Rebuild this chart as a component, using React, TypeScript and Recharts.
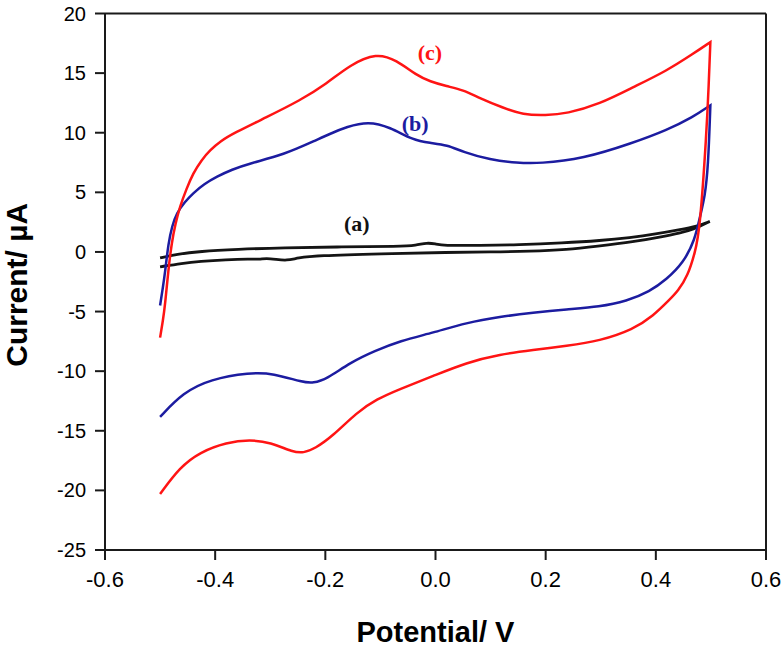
import { Label, Line, LineChart, ReferenceDot, ReferenceLine, XAxis, YAxis } from 'recharts';

// potential (V), current (µA) pairs
const aForward: [number, number][] = [
  [-0.5, -1.25], [-0.46, -0.95], [-0.428, -0.79], [-0.38, -0.65], [-0.337, -0.59], [-0.32, -0.62],
  [-0.307, -0.53], [-0.29, -0.62], [-0.27, -0.73], [-0.25, -0.5], [-0.216, -0.31], [-0.1, -0.15],
  [0.026, -0.03], [0.1, 0.0], [0.171, 0.05], [0.24, 0.2], [0.292, 0.47], [0.36, 0.85],
  [0.413, 1.3], [0.443, 1.58], [0.467, 1.86], [0.498, 2.56], [0.498, 2.56],
];
const aReverse: [number, number][] = [
  [0.498, 2.56], [0.475, 2.15], [0.443, 1.86], [0.4, 1.5], [0.353, 1.2], [0.3, 0.95],
  [0.231, 0.75], [0.15, 0.6], [0.08, 0.55], [0.013, 0.53], [0.0, 0.68], [-0.016, 0.78],
  [-0.035, 0.55], [-0.065, 0.47], [-0.17, 0.42], [-0.277, 0.36], [-0.36, 0.22], [-0.428, 0.05],
  [-0.47, -0.2], [-0.5, -0.5],
];

const bForward: [number, number][] = [
  [-0.5, -4.49], [-0.495, -3.0], [-0.491, -1.76], [-0.485, 0.75], [-0.478, 2.2], [-0.47, 3.26],
  [-0.455, 4.2], [-0.44, 4.93], [-0.42, 5.7], [-0.397, 6.32], [-0.37, 6.9], [-0.337, 7.44],
  [-0.276, 8.14], [-0.216, 9.39], [-0.192, 9.9], [-0.161, 10.5], [-0.122, 10.95],
  [-0.083, 10.48], [-0.041, 9.39], [-0.01, 9.14], [0.021, 8.97], [0.05, 8.39], [0.099, 7.72],
  [0.148, 7.47], [0.189, 7.42], [0.267, 7.8], [0.358, 9.14], [0.42, 10.22], [0.467, 11.3],
  [0.499, 12.3], [0.499, 12.3],
];
const bReverse: [number, number][] = [
  [0.499, 12.3], [0.495, 7.13], [0.489, 4.62], [0.48, 2.95], [0.471, 1.03], [0.45, -0.92],
  [0.419, -2.32], [0.389, -3.32], [0.347, -4.13], [0.298, -4.6], [0.238, -4.82], [0.177, -5.1],
  [0.117, -5.43], [0.056, -5.94], [-0.004, -6.77], [-0.065, -7.47], [-0.11, -8.3], [-0.155, -9.28],
  [-0.198, -10.68], [-0.222, -11.0], [-0.24, -10.95], [-0.295, -10.18], [-0.337, -10.12],
  [-0.409, -10.68], [-0.458, -11.79], [-0.5, -13.83],
];

const cForward: [number, number][] = [
  [-0.5, -7.19], [-0.495, -5.8], [-0.491, -4.5], [-0.485, -1.5], [-0.479, 0.75], [-0.472, 2.4],
  [-0.464, 3.8], [-0.452, 5.3], [-0.44, 6.6], [-0.425, 7.7], [-0.409, 8.55], [-0.39, 9.3],
  [-0.367, 9.95], [-0.307, 11.3], [-0.246, 12.7], [-0.198, 14.1], [-0.155, 15.7],
  [-0.107, 16.7], [-0.071, 16.1], [-0.034, 14.8], [-0.01, 14.3], [0.02, 13.9], [0.05, 13.6],
  [0.08, 12.9], [0.122, 12.1], [0.159, 11.5], [0.2, 11.45], [0.238, 11.6], [0.298, 12.4],
  [0.358, 13.8], [0.42, 15.2], [0.467, 16.6], [0.499, 17.6], [0.499, 17.6],
];
const cReverse: [number, number][] = [
  [0.499, 17.6], [0.496, 14.0], [0.492, 9.95], [0.48, 1.86], [0.471, -0.08], [0.458, -2.0],
  [0.44, -3.3], [0.425, -4.0], [0.395, -5.38], [0.359, -6.5], [0.298, -7.47], [0.238, -7.89],
  [0.177, -8.23], [0.117, -8.59], [0.056, -9.28], [-0.004, -10.4], [-0.065, -11.5], [-0.107, -12.35],
  [-0.143, -13.46], [-0.186, -15.42], [-0.219, -16.5], [-0.24, -16.86], [-0.258, -16.8],
  [-0.3, -15.97], [-0.337, -15.75], [-0.379, -15.97], [-0.428, -16.8], [-0.464, -18.06], [-0.5, -20.3],
];

const xTicks = [-0.6, -0.4, -0.2, 0.0, 0.2, 0.4, 0.6];
const yTicks = [-25, -20, -15, -10, -5, 0, 5, 10, 15, 20];

const toPoints = (pairs: [number, number][]) => pairs.map(([x, y]) => ({ x, y }));

const curveA = toPoints([...aForward, ...aReverse]);
const curveB = toPoints([...bForward, ...bReverse]);
const curveC = toPoints([...cForward, ...cReverse]);

const sans = '"Liberation Sans", Arial, sans-serif';
const serif = '"Liberation Serif", "Times New Roman", serif';
const axisColor = '#1a1a1a';

export default function App() {
  return (
    <div>
      <style>{'body{margin:0}'}</style>
      <LineChart width={784} height={648} margin={{ top: 13.5, right: 18, bottom: 0, left: 0 }}>
        <XAxis
          dataKey="x"
          type="number"
          domain={[-0.6, 0.6]}
          ticks={xTicks}
          tickFormatter={(v: number) => v.toFixed(1)}
          height={98}
          tickSize={10}
          tickMargin={11}
          stroke={axisColor}
          strokeWidth={2}
          tick={{ fill: '#000', fontSize: 22, fontFamily: sans }}
        >
          <Label
            content={(props: any) => {
              const vb = props.viewBox || { x: 105, y: 550, width: 661, height: 98 };
              return (
                <text
                  x={vb.x + vb.width / 2}
                  y={vb.y + vb.height - 6}
                  textAnchor="middle"
                  fontFamily={sans}
                  fontWeight="bold"
                  fontSize={29}
                  fill="#000"
                >
                  Potential/ V
                </text>
              );
            }}
          />
        </XAxis>
        <YAxis
          dataKey="y"
          type="number"
          domain={[-25, 20]}
          ticks={yTicks}
          width={105}
          tickSize={10}
          tickMargin={9}
          stroke={axisColor}
          strokeWidth={2}
          tick={{ fill: '#000', fontSize: 20, fontFamily: sans }}
        >
          <Label
            content={(props: any) => {
              const vb = props.viewBox || { x: 0, y: 13.5, width: 105, height: 536.5 };
              const cy = vb.y + vb.height / 2 + 3;
              return (
                <text
                  x={27}
                  y={cy}
                  transform={`rotate(-90, 27, ${cy})`}
                  textAnchor="middle"
                  fontFamily={sans}
                  fontWeight="bold"
                  fontSize={30}
                  fill="#000"
                >
                  Current/ µA
                </text>
              );
            }}
          />
        </YAxis>
        <ReferenceLine y={20} stroke={axisColor} strokeWidth={2} />
        <ReferenceLine x={0.6} stroke={axisColor} strokeWidth={2} />
        <Line data={curveA} dataKey="y" type="basis" stroke="#141414" strokeWidth={2.8} dot={false} isAnimationActive={false} />
        <Line data={curveB} dataKey="y" type="basis" stroke="#1c1ca0" strokeWidth={2.5} dot={false} isAnimationActive={false} />
        <Line data={curveC} dataKey="y" type="basis" stroke="#ff1414" strokeWidth={2.5} dot={false} isAnimationActive={false} />
        <ReferenceDot
          x={-0.01}
          y={16.75}
          r={1}
          fill="none"
          stroke="none"
          label={{ value: '(c)', position: 'center', fill: '#ff1414', fontSize: 22, fontWeight: 'bold', fontFamily: serif }}
        />
        <ReferenceDot
          x={-0.037}
          y={10.8}
          r={1}
          fill="none"
          stroke="none"
          label={{ value: '(b)', position: 'center', fill: '#1c1ca0', fontSize: 22, fontWeight: 'bold', fontFamily: serif }}
        />
        <ReferenceDot
          x={-0.143}
          y={2.45}
          r={1}
          fill="none"
          stroke="none"
          label={{ value: '(a)', position: 'center', fill: '#111', fontSize: 22, fontWeight: 'bold', fontFamily: serif }}
        />
      </LineChart>
    </div>
  );
}
